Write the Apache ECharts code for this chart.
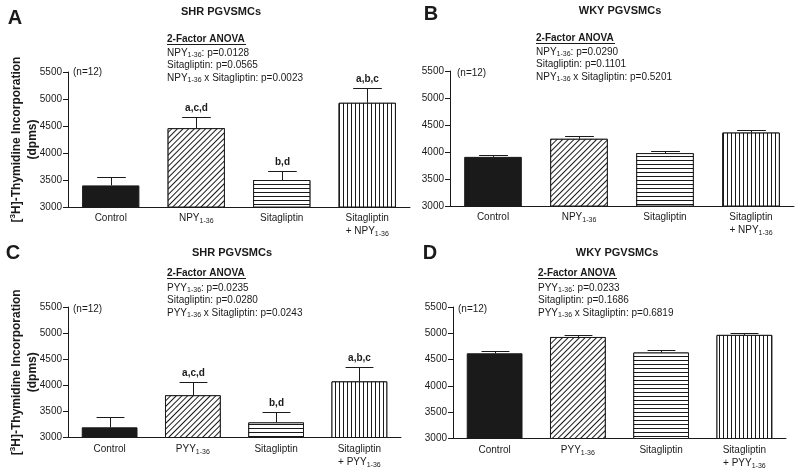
<!DOCTYPE html>
<html>
<head>
<meta charset="utf-8">
<script src="https://cdn.jsdelivr.net/npm/echarts@6/dist/echarts.min.js"></script>
<style>
html,body{margin:0;padding:0;background:#fff;}
#chart{width:800px;height:472px;}
</style>
</head>
<body>
<div id="chart"></div>
<script>
// ---------- data ----------
const categoriesNPY = ['Control', 'NPY1-36', 'Sitagliptin', 'Sitagliptin\n+ NPY1-36'];
const categoriesPYY = ['Control', 'PYY1-36', 'Sitagliptin', 'Sitagliptin\n+ PYY1-36'];

const meansA = [3400, 4460, 3500, 4930];
const semA = [150, 200, 160, 280];
const lettersA = ['', 'a,c,d', 'b,d', 'a,b,c'];

const meansB = [3910, 4245, 3980, 4360];
const semB = [35, 48, 43, 48];
const lettersB = ['', '', '', ''];

const meansC = [3195, 3810, 3290, 4075];
const semC = [195, 245, 205, 270];
const lettersC = ['', 'a,c,d', 'b,d', 'a,b,c'];

const meansD = [4620, 4930, 4635, 4970];
const semD = [38, 38, 42, 42];
const lettersD = ['', '', '', ''];

const yMin = 3000, yMax = 5500, yInterval = 500;

const panelLetters = ['A', 'B', 'C', 'D'];
const panelTitles = ['SHR PGVSMCs', 'WKY PGVSMCs', 'SHR PGVSMCs', 'WKY PGVSMCs'];
const anovaA = ['NPY1-36: p=0.0128', 'Sitagliptin: p=0.0565', 'NPY1-36 x Sitagliptin: p=0.0023'];
const anovaB = ['NPY1-36: p=0.0290', 'Sitagliptin: p=0.1101', 'NPY1-36 x Sitagliptin: p=0.5201'];
const anovaC = ['PYY1-36: p=0.0235', 'Sitagliptin: p=0.0280', 'PYY1-36 x Sitagliptin: p=0.0243'];
const anovaD = ['PYY1-36: p=0.0233', 'Sitagliptin: p=0.1686', 'PYY1-36 x Sitagliptin: p=0.6819'];
const nLabel = '(n=12)';
const yAxisName = '[{sup|3}H]-Thymidine Incorporation\n(dpms)';

// ---------- styles ----------
const FONT = "'Liberation Sans', Arial, Helvetica, sans-serif";
const INK = '#1a1a1a';
const subRich = {
  sub: { fontSize: 7, fontFamily: FONT, color: INK, verticalAlign: 'bottom', lineHeight: 8 }
};
function subify(s) { return s.replace(/(NPY|PYY)1-36/g, '$1{sub|1-36}'); }

const barStyles = [
  { color: INK, borderColor: INK, borderWidth: 1 },
  { color: '#fff', borderColor: INK, borderWidth: 1,
    decal: { symbol: 'rect', symbolSize: 1, dashArrayX: [1, 0], dashArrayY: [1, 3], rotation: -Math.PI / 4, color: INK, backgroundColor: '#fff' } },
  { color: '#fff', borderColor: INK, borderWidth: 1,
    decal: { symbol: 'rect', symbolSize: 1, dashArrayX: [1, 0], dashArrayY: [1, 2.2], rotation: 0, color: INK, backgroundColor: '#fff' } },
  { color: '#fff', borderColor: INK, borderWidth: 1,
    decal: { symbol: 'rect', symbolSize: 1, dashArrayX: [1, 0], dashArrayY: [1, 2.3], rotation: Math.PI / 2, color: INK, backgroundColor: '#fff' } }
];

const panels = [
  { cats: categoriesNPY, means: meansA, sem: semA, letters: lettersA, anova: anovaA,
    grid: { left: 68, top: 72, width: 342, height: 135 }, showName: true },
  { cats: categoriesNPY, means: meansB, sem: semB, letters: lettersB, anova: anovaB,
    grid: { left: 450, top: 71, width: 344, height: 135 }, showName: false },
  { cats: categoriesPYY, means: meansC, sem: semC, letters: lettersC, anova: anovaC,
    grid: { left: 68, top: 307, width: 333, height: 130.5 }, showName: true },
  { cats: categoriesPYY, means: meansD, sem: semD, letters: lettersD, anova: anovaD,
    grid: { left: 453, top: 307, width: 333, height: 131.5 }, showName: false }
];

// text layout (annotation positions)
const textLayout = [
  { letter: [15, 18], title: [221, 12], anovaX: 167, anovaY: [39, 53, 65.5, 78], n: [73, 72] },
  { letter: [431, 14], title: [620, 11], anovaX: 536, anovaY: [38, 52, 64.5, 77], n: [457, 73] },
  { letter: [13, 253], title: [232, 253], anovaX: 167, anovaY: [273, 288, 300.5, 313], n: [73, 309] },
  { letter: [430, 253], title: [617, 253], anovaX: 538, anovaY: [273, 288, 300.5, 313], n: [458, 309] }
];

function errRender(letters) {
  return function (params, api) {
    const i = api.value(0), m = api.value(1), s = api.value(2);
    const base = api.coord([i, m]);
    const top = api.coord([i, m + s]);
    const bw = api.size([1, 0])[0] * 0.67;
    const half = bw * 0.25;
    const ty = Math.round(top[1]) + 0.5;
    const tx = Math.round(top[0]) + 0.5;
    const children = [
      { type: 'line', shape: { x1: tx, y1: base[1], x2: tx, y2: ty }, style: { stroke: INK, lineWidth: 1 } },
      { type: 'line', shape: { x1: tx - half, y1: ty, x2: tx + half, y2: ty }, style: { stroke: INK, lineWidth: 1 } }
    ];
    const lab = letters[params.dataIndex];
    if (lab) {
      children.push({ type: 'text', x: tx, y: ty - 4,
        style: { text: lab, textAlign: 'center', textVerticalAlign: 'bottom', font: 'bold 10px ' + FONT, fill: INK } });
    }
    return { type: 'group', children };
  };
}

const grids = [], xAxes = [], yAxes = [], series = [], graphics = [];
panels.forEach((p, k) => {
  grids.push(Object.assign({ containLabel: false }, p.grid));
  xAxes.push({
    type: 'category', gridIndex: k, data: p.cats,
    axisLine: { lineStyle: { color: INK, width: 1 } },
    axisTick: { show: false },
    axisLabel: { interval: 0, fontSize: 10, fontFamily: FONT, color: INK, margin: 5, lineHeight: 13,
      formatter: v => subify(v), rich: subRich }
  });
  yAxes.push({
    type: 'value', gridIndex: k, min: yMin, max: yMax, interval: yInterval,
    splitLine: { show: false },
    axisLine: { show: true, lineStyle: { color: INK, width: 1 } },
    axisTick: { show: true, length: 5, lineStyle: { color: INK } },
    axisLabel: { fontSize: 10, fontFamily: FONT, color: INK, margin: 6, formatter: v => String(v) },
    name: p.showName ? yAxisName : '',
    nameLocation: 'middle', nameGap: 28, nameRotate: 90, nameMoveOverlap: false,
    nameTextStyle: { fontSize: 12, fontWeight: 'bold', fontFamily: FONT, color: INK, lineHeight: 15.5,
      rich: { sup: { fontSize: 8, fontWeight: 'bold', fontFamily: FONT, color: INK, verticalAlign: 'top', lineHeight: 9 } } }
  });
  series.push({
    type: 'bar', xAxisIndex: k, yAxisIndex: k, barCategoryGap: '33%',
    data: p.means.map((v, i) => ({ value: v, itemStyle: barStyles[i] })),
    silent: true, animation: false
  });
  series.push({
    type: 'custom', xAxisIndex: k, yAxisIndex: k, z: 5,
    data: p.means.map((v, i) => [i, v, p.sem[i]]),
    encode: { x: 0, y: 1 },
    renderItem: errRender(p.letters), silent: true, animation: false
  });

  const L = textLayout[k];
  graphics.push({ type: 'text', x: L.letter[0], y: L.letter[1],
    style: { text: panelLetters[k], font: 'bold 20px ' + FONT, fill: INK, textAlign: 'center', textVerticalAlign: 'middle' } });
  graphics.push({ type: 'text', x: L.title[0], y: L.title[1],
    style: { text: panelTitles[k], font: 'bold 11px ' + FONT, fill: INK, textAlign: 'center', textVerticalAlign: 'middle' } });
  graphics.push({ type: 'text', x: L.anovaX, y: L.anovaY[0],
    style: { text: '2-Factor ANOVA', font: 'bold 10px ' + FONT, fill: INK, textAlign: 'left', textVerticalAlign: 'middle' } });
  graphics.push({ type: 'line', shape: { x1: L.anovaX, y1: Math.round(L.anovaY[0]) + 5.5, x2: L.anovaX + 79, y2: Math.round(L.anovaY[0]) + 5.5 },
    style: { stroke: INK, lineWidth: 1 } });
  p.anova.forEach((t, j) => {
    graphics.push({ type: 'text', x: L.anovaX, y: L.anovaY[j + 1],
      style: { text: subify(t), font: '10px ' + FONT, fill: INK, textAlign: 'left', textVerticalAlign: 'middle',
        lineHeight: 12, rich: { sub: { fontSize: 7, fontFamily: FONT, fill: INK, verticalAlign: 'bottom', lineHeight: 8 } } } });
  });
  graphics.push({ type: 'text', x: L.n[0], y: L.n[1],
    style: { text: nLabel, font: '10px ' + FONT, fill: INK, textAlign: 'left', textVerticalAlign: 'middle' } });
});

const chart = echarts.init(document.getElementById('chart'), null, { renderer: 'canvas' });
chart.setOption({
  backgroundColor: '#fff',
  animation: false,
  grid: grids, xAxis: xAxes, yAxis: yAxes, series: series,
  graphic: graphics
});
</script>
</body>
</html>
